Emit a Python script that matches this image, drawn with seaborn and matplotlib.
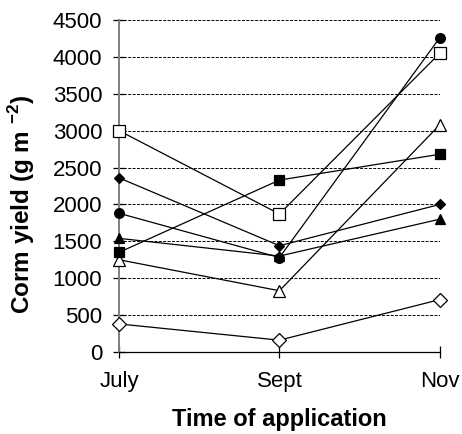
import matplotlib
matplotlib.use("Agg")
import matplotlib.pyplot as plt
import seaborn as sns

categories = ["July", "Sept", "Nov"]
open_square = [3000, 1870, 4050]
filled_circle = [1880, 1280, 4260]
filled_diamond = [2360, 1440, 2000]
filled_triangle = [1540, 1300, 1800]
filled_square = [1350, 2330, 2680]
open_triangle = [1250, 830, 3080]
open_diamond = [380, 160, 710]
y_ticks = [0, 500, 1000, 1500, 2000, 2500, 3000, 3500, 4000, 4500]

sns.set_theme(style="white")
plt.rcParams['font.family'] = ['Liberation Sans', 'DejaVu Sans']
plt.rcParams['mathtext.fontset'] = 'custom'
plt.rcParams['mathtext.rm'] = 'Liberation Sans'
plt.rcParams['mathtext.bf'] = 'Liberation Sans:bold'
plt.rcParams['text.color'] = 'black'
plt.rcParams['axes.labelcolor'] = 'black'
plt.rcParams['xtick.color'] = 'black'
plt.rcParams['ytick.color'] = 'black'

fig = plt.figure(figsize=(4.62, 4.34), dpi=100)
ax = fig.add_axes([0.2576, 0.189, 0.952 - 0.2576, 0.954 - 0.189])

xpos = list(range(len(categories)))

series = [
    (open_diamond, 'D', 'white', 7.5),
    (open_triangle, '^', 'white', 9),
    (filled_triangle, '^', 'black', 7),
    (filled_diamond, 'D', 'black', 5),
    (filled_circle, 'o', 'black', 7),
    (filled_square, 's', 'black', 7.5),
    (open_square, 's', 'white', 9),
]

for vals, mk, fc, ms in series:
    sns.lineplot(x=xpos, y=vals, ax=ax, color='black', linewidth=0.9,
                 marker=mk, markersize=ms, markerfacecolor=fc,
                 markeredgecolor='black', markeredgewidth=0.9,
                 clip_on=False, zorder=3)

ax.set_xlim(0, len(categories) - 1)
ax.set_ylim(0, 4500)
ax.set_yticks(y_ticks)
ax.set_xticks(xpos)
ax.set_xticklabels(categories)

for y in y_ticks[1:]:
    ax.axhline(y, color='black', linestyle=(0, (3, 1.5)), linewidth=0.7, zorder=1)

for s in ['top', 'right']:
    ax.spines[s].set_visible(False)
ax.spines['left'].set_color('#808080')
ax.spines['left'].set_linewidth(1.4)
ax.spines['bottom'].set_color('black')
ax.spines['bottom'].set_linewidth(0.9)

ax.tick_params(axis='y', direction='inout', length=8, width=0.9, color='black',
               labelsize=16, pad=8, left=True, labelcolor='black')
ax.tick_params(axis='x', direction='inout', length=8, width=0.9, color='black',
               labelsize=16, pad=10, bottom=True, labelcolor='black')

ax.set_xlabel("Time of application", fontsize=17, fontweight='bold', color='black')
ax.set_ylabel(r"Corm yield (g m $^{\mathbf{-2}}$)", fontsize=17.5, fontweight='bold', color='black')
ax.xaxis.set_label_coords(0.5, -0.170)
ax.yaxis.set_label_coords(-0.255, 0.445)

fig.savefig("out.png", dpi=100)
